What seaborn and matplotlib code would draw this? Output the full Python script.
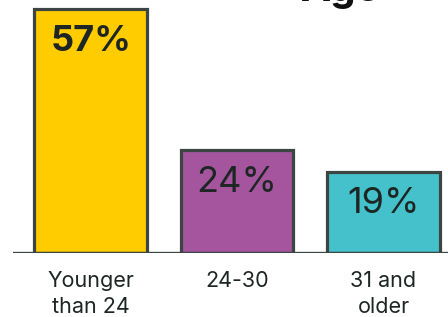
import matplotlib.pyplot as plt
import seaborn as sns

categories = ["Younger\nthan 24", "24-30", "31 and\nolder"]
shares = [57, 24, 19]
bar_colors = ["#FFCC00", "#A5559E", "#45C1CB"]
label_weights = ["bold", "normal", "normal"]
title = "Age"

sns.set_style("white")
plt.rcParams["font.family"] = ["Inter", "DejaVu Sans"]

edge = "#3D4543"
text_color = "#1D2624"

fig = plt.figure(figsize=(4.48, 3.17), dpi=100)
ax = fig.add_axes([13 / 448, (317 - 253) / 317, (448 - 13) / 448, 253 / 317])

sns.barplot(x=categories, y=shares, hue=categories, palette=bar_colors,
            legend=False, width=0.77, edgecolor=edge, linewidth=2.3,
            saturation=1, ax=ax)

ax.axhline(0, color=edge, lw=2.4, zorder=5)
ax.set_xlim(-0.53, 2.44)
ax.set_ylim(0, 59.2)
sns.despine(ax=ax, left=True, bottom=True)
ax.set_yticks([])
ax.set_ylabel("")
ax.tick_params(axis="x", length=0, pad=13, labelsize=15.5, labelcolor=text_color)
for lab in ax.get_xticklabels():
    lab.set_linespacing(1.4)

# percentage labels inside the top of each bar
for i, (v, w) in enumerate(zip(shares, label_weights)):
    ax.annotate(f"{v}%", xy=(i, v), xytext=(0, -11), textcoords="offset points",
                ha="center", va="top", fontsize=26, fontweight=w,
                color=text_color)

# title sits mostly above the visible area
fig.text(340 / 448, 1 - 1.2 / 317, title, ha="center", va="baseline",
         fontsize=29, fontweight="bold", color="#111111")

fig.savefig("out.png", dpi=100)
